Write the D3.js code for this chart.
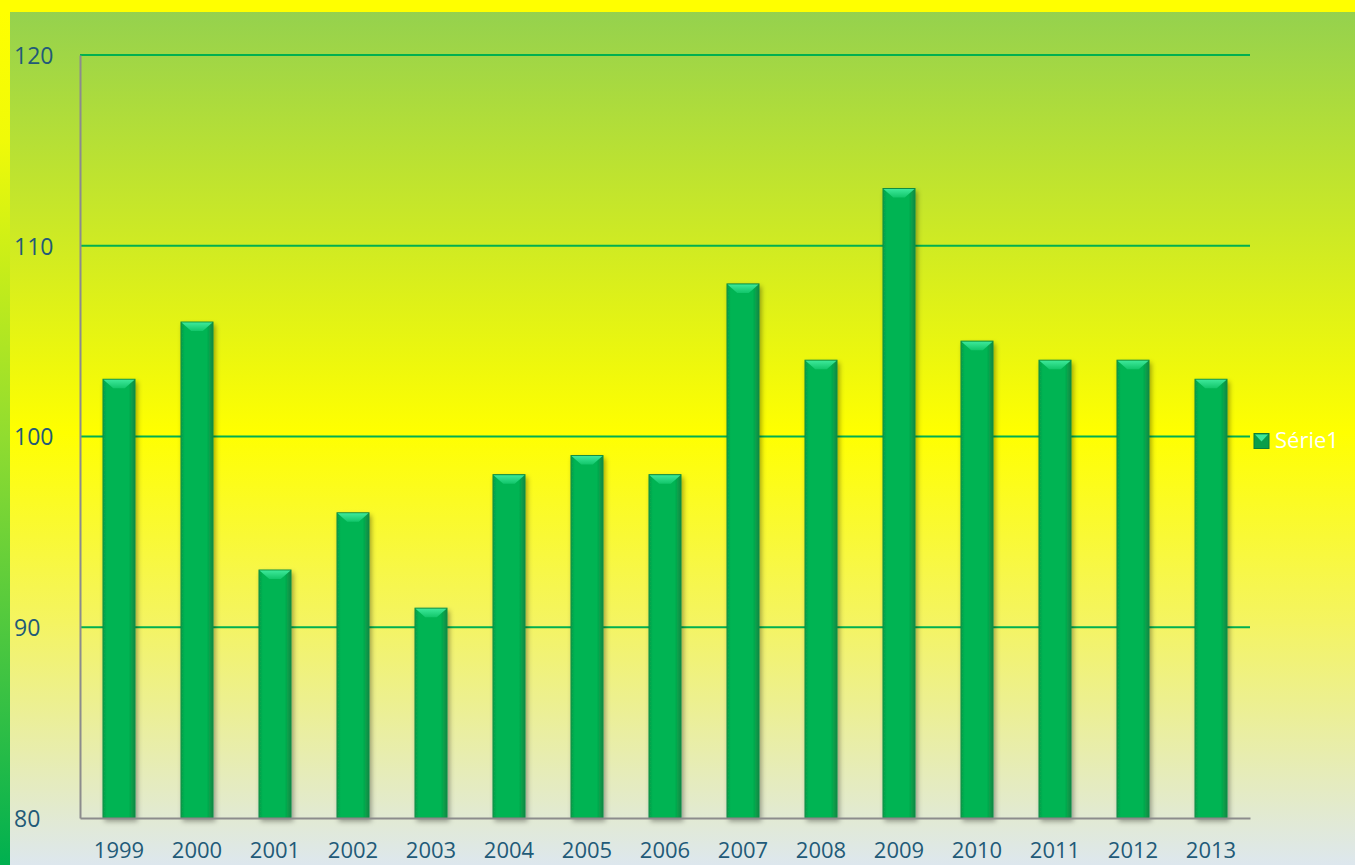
<!DOCTYPE html>
<html>
<head>
<meta charset="utf-8">
<script src="https://cdnjs.cloudflare.com/ajax/libs/d3/7.8.5/d3.min.js"></script>
<style>
  body { margin: 0; padding: 0; overflow: hidden; }
  text { font-family: "Open Sans", "Noto Sans", sans-serif; }
</style>
</head>
<body>
<div id="chart"></div>
<script>
var years = ["1999", "2000", "2001", "2002", "2003", "2004", "2005", "2006",
             "2007", "2008", "2009", "2010", "2011", "2012", "2013"];
var values = [103, 106, 93, 96, 91, 98, 99, 98, 108, 104, 113, 105, 104, 104, 103];
var yTicks = [80, 90, 100, 110, 120];
var seriesName = "Série1";

var svgWidth = 1355;
var svgHeight = 865;

var margin = { top: 55, right: 105, bottom: 47, left: 80 };
var width = svgWidth - margin.left - margin.right;
var height = svgHeight - margin.top - margin.bottom;

var svg = d3.select("#chart")
  .append("svg")
  .attr("width", svgWidth)
  .attr("height", svgHeight);

var defs = svg.append("defs");

// background gradient
var bg = defs.append("linearGradient")
  .attr("id", "bg").attr("x1", 0).attr("y1", 0).attr("x2", 0).attr("y2", 1);
bg.append("stop").attr("offset", "0%").attr("stop-color", "#92d050");
bg.append("stop").attr("offset", "50%").attr("stop-color", "#ffff00");
bg.append("stop").attr("offset", "72%").attr("stop-color", "#f4f462");
bg.append("stop").attr("offset", "100%").attr("stop-color", "#dde7ee");

var side = defs.append("linearGradient")
  .attr("id", "side").attr("x1", 0).attr("y1", 0).attr("x2", 0).attr("y2", 1);
side.append("stop").attr("offset", "0%").attr("stop-color", "#ffff00");
side.append("stop").attr("offset", "15%").attr("stop-color", "#f0fa08");
side.append("stop").attr("offset", "50%").attr("stop-color", "#90dc30");
side.append("stop").attr("offset", "100%").attr("stop-color", "#00b050");

var barGrad = defs.append("linearGradient")
  .attr("id", "barGrad").attr("x1", 0).attr("y1", 0).attr("x2", 1).attr("y2", 0);
barGrad.append("stop").attr("offset", "0%").attr("stop-color", "#0a9e4a");
barGrad.append("stop").attr("offset", "12%").attr("stop-color", "#00b452");
barGrad.append("stop").attr("offset", "80%").attr("stop-color", "#00b452");
barGrad.append("stop").attr("offset", "100%").attr("stop-color", "#138a44");

var capGrad = defs.append("linearGradient")
  .attr("id", "capGrad").attr("x1", 0).attr("y1", 0).attr("x2", 0).attr("y2", 1);
capGrad.append("stop").attr("offset", "0%").attr("stop-color", "#3de89a");
capGrad.append("stop").attr("offset", "100%").attr("stop-color", "#12c66a");

var shadow = defs.append("filter").attr("id", "shadow")
  .attr("x", "-30%").attr("y", "-5%").attr("width", "160%").attr("height", "110%");
shadow.append("feDropShadow")
  .attr("dx", 2).attr("dy", 3).attr("stdDeviation", 2.5)
  .attr("flood-color", "#000").attr("flood-opacity", 0.35);

svg.append("rect")
  .attr("width", svgWidth).attr("height", svgHeight)
  .attr("fill", "url(#bg)");

svg.append("rect")
  .attr("width", svgWidth).attr("height", 12)
  .attr("fill", "#ffff00");

svg.append("rect")
  .attr("y", 12).attr("width", 10).attr("height", svgHeight - 12)
  .attr("fill", "url(#side)");

var chartGroup = svg.append("g")
  .attr("transform", `translate(${margin.left}, ${margin.top})`);

var xScale = d3.scaleBand()
  .domain(years)
  .range([0, width])
  .paddingInner(0.59)
  .paddingOuter(0.295);

var yScale = d3.scaleLinear()
  .domain([80, 120])
  .range([height, 0]);

// gridlines
chartGroup.append("g")
  .selectAll("line")
  .data(yTicks.filter(d => d > 80))
  .enter()
  .append("line")
  .attr("x1", 0).attr("x2", width)
  .attr("y1", d => yScale(d)).attr("y2", d => yScale(d))
  .attr("stroke", "#00b050")
  .attr("stroke-width", 2);

// bars
var bars = chartGroup.append("g")
  .selectAll("g")
  .data(values)
  .enter()
  .append("g")
  .attr("transform", (d, i) => `translate(${xScale(years[i])}, 0)`);

var bw = xScale.bandwidth();

bars.append("rect")
  .attr("x", 0)
  .attr("y", d => yScale(d))
  .attr("width", bw)
  .attr("height", d => height - yScale(d))
  .attr("fill", "url(#barGrad)")
  .attr("stroke", "#0e8c45")
  .attr("stroke-width", 1)
  .attr("filter", "url(#shadow)");

bars.append("path")
  .attr("d", d => {
    var y = yScale(d);
    return `M0.5,${y + 0.5} L${bw - 0.5},${y + 0.5} L${bw * 0.68},${y + 9} L${bw * 0.32},${y + 9} Z`;
  })
  .attr("fill", "url(#capGrad)");

// axes
var leftAxis = d3.axisLeft(yScale).tickValues(yTicks).tickSize(0).tickFormat(d3.format("d"));
var bottomAxis = d3.axisBottom(xScale).tickSize(0);

var yAxis = chartGroup.append("g").call(leftAxis);
yAxis.select(".domain").attr("stroke", "#8c8c8c").attr("stroke-width", 2);
yAxis.selectAll("text")
  .attr("x", -66)
  .attr("dy", "0.36em")
  .attr("text-anchor", "start")
  .attr("fill", "#225a78")
  .style("font-size", "23px");

var xAxis = chartGroup.append("g")
  .attr("transform", `translate(0, ${height})`)
  .call(bottomAxis);
xAxis.select(".domain").attr("stroke", "#8c8c8c").attr("stroke-width", 2);
xAxis.selectAll("text")
  .attr("y", 40)
  .attr("dy", 0)
  .attr("fill", "#225a78")
  .style("font-size", "22px");

// legend
var legend = svg.append("g")
  .attr("transform", `translate(1254, ${margin.top + yScale(100) + 4})`);
legend.append("rect")
  .attr("x", 0).attr("y", -7).attr("width", 15).attr("height", 15)
  .attr("fill", "#0a9e4a").attr("stroke", "#0b7d3c");
legend.append("path")
  .attr("d", "M1,-6 L14,-6 L7.5,1 Z")
  .attr("fill", "#3de89a");
legend.append("text")
  .attr("x", 21).attr("y", 0).attr("dy", "0.36em")
  .attr("fill", "#ffffff")
  .style("font-size", "22px")
  .text(seriesName);
</script>
</body>
</html>
